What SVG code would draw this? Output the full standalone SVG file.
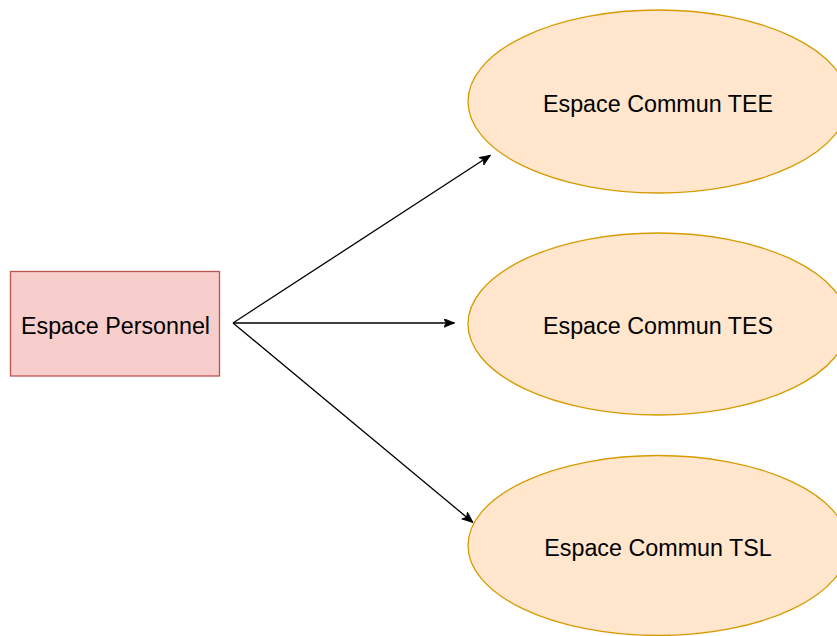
<svg xmlns="http://www.w3.org/2000/svg" width="837" height="636" viewBox="0 0 837 636">
<defs>
<style>
.ell{fill:#ffe6cc;stroke:#d79b00;stroke-width:1.3}
.rect{fill:#f8cecc;stroke:#b85450;stroke-width:1.3}
.lbl{font-family:"Liberation Sans",Arial,sans-serif;font-size:23.3px;fill:#000;text-anchor:middle}
.edge{stroke:#000;stroke-width:1.3;fill:none;marker-end:url(#arr)}
</style>
<marker id="arr" markerUnits="userSpaceOnUse" markerWidth="12" markerHeight="10" refX="11" refY="4.5" orient="auto" viewBox="0 0 12 10">
<path d="M0,0 L11,4.5 L0,9 L2.8,4.5 Z" fill="#000" stroke="#000" stroke-width="0.8"/>
</marker>
</defs>
<rect width="837" height="636" fill="#fff"/>
<g id="connectors">
<line class="edge" x1="233" y1="323" x2="490.5" y2="155.3"/>
<line class="edge" x1="233" y1="323" x2="454.5" y2="323"/>
<line class="edge" x1="233" y1="323" x2="473" y2="522.5"/>
</g>
<g id="personnel">
<rect class="rect" x="10.5" y="271.5" width="209" height="104.5"/>
<text class="lbl" x="115.5" y="334">Espace Personnel</text>
</g>
<g id="tee">
<ellipse class="ell" cx="658" cy="101.5" rx="190" ry="91.5"/>
<text class="lbl" x="658" y="112">Espace Commun TEE</text>
</g>
<g id="tes">
<ellipse class="ell" cx="658" cy="324" rx="190" ry="91"/>
<text class="lbl" x="658" y="333.5">Espace Commun TES</text>
</g>
<g id="tsl">
<ellipse class="ell" cx="658" cy="545.5" rx="190" ry="90"/>
<text class="lbl" x="658" y="556">Espace Commun TSL</text>
</g>
</svg>
